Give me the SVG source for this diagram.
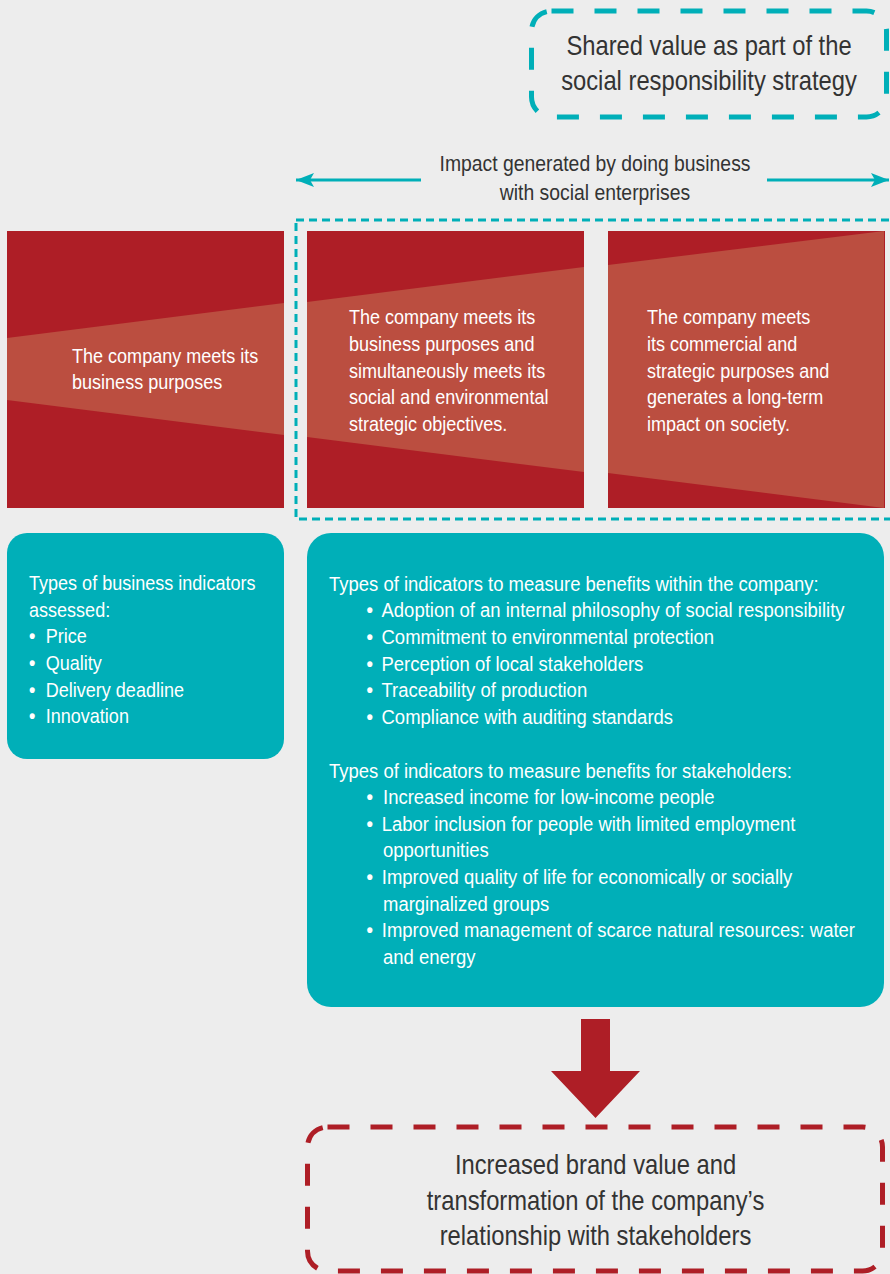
<svg xmlns="http://www.w3.org/2000/svg" width="890" height="1274" viewBox="0 0 890 1274">
<defs>
<style>
.t{font-family:"Liberation Sans",Arial,sans-serif;}
.dark{fill:#333333;}
.white{fill:#FFFFFF;}
.red{fill:#AE1E26;}
.band{fill:#BB4E40;}
.teal{fill:#00AFB8;}
.tdash{fill:none;stroke:#00AFB8;}
.rdash{fill:none;stroke:#AE1E26;}
.conn{fill:none;stroke:#00AFB8;stroke-width:3;}
.b{font-weight:bold;}
</style>
<marker id="ah" viewBox="-19 -8 20 16" refX="0" refY="0" markerWidth="20" markerHeight="16" markerUnits="userSpaceOnUse" orient="auto">
<path d="M0,0 L-18,-7 L-14,0 L-18,7 Z" fill="#00AFB8"/>
</marker>
</defs>
<rect x="0" y="0" width="890" height="1274" fill="#EDEDED"/>

<g id="shared-value">
<rect class="tdash" x="531.5" y="11" width="355" height="106" rx="20" stroke-width="5" stroke-dasharray="22 21"/>
<g class="t dark" font-size="27" transform="translate(709,0) scale(0.88,1)" text-anchor="middle">
<text x="0" y="55">Shared value as part of the</text>
<text x="0" y="90">social responsibility strategy</text>
</g>
</g>

<g id="impact-label">
<g class="t dark" font-size="22" transform="translate(595,0) scale(0.88,1)" text-anchor="middle">
<text x="0" y="171.5">Impact generated by doing business</text>
<text x="0" y="200">with social enterprises</text>
</g>
</g>

<g id="connectors">
<line class="conn" x1="421" y1="180" x2="296" y2="180" marker-end="url(#ah)"/>
<line class="conn" x1="767" y1="180" x2="889" y2="180" marker-end="url(#ah)"/>
<path d="M581,1019 H610 V1071 H640 L595.5,1118 L551,1071 H581 Z" fill="#AE1E26"/>
</g>

<g id="social-frame">
<rect class="tdash" x="296" y="220" width="610" height="299" stroke-width="3" stroke-dasharray="8 5"/>
</g>

<g id="box-business">
<rect class="red" x="7" y="231" width="277" height="277"/>
<polygon class="band" points="7,338 284,303 284,435 7,400"/>
<g class="t white" font-size="20.5" transform="translate(72,0) scale(0.88,1)">
<text x="0" y="363">The company meets its</text>
<text x="0" y="389">business purposes</text>
</g>
</g>

<g id="box-social">
<rect class="red" x="307" y="231" width="277" height="277"/>
<polygon class="band" points="307,302 584,267 584,472 307,437"/>
<g class="t white" font-size="20.5" transform="translate(349,0) scale(0.88,1)">
<text x="0" y="324.3">The company meets its</text>
<text x="0" y="351">business purposes and</text>
<text x="0" y="377.7">simultaneously meets its</text>
<text x="0" y="404.3">social and environmental</text>
<text x="0" y="431">strategic objectives.</text>
</g>
</g>

<g id="box-longterm">
<rect class="red" x="608" y="231" width="277" height="277"/>
<polygon class="band" points="608,265 884,231 884,508 608,473"/>
<g class="t white" font-size="20.5" transform="translate(647,0) scale(0.88,1)">
<text x="0" y="324.3">The company meets</text>
<text x="0" y="351">its commercial and</text>
<text x="0" y="377.7">strategic purposes and</text>
<text x="0" y="404.3">generates a long-term</text>
<text x="0" y="431">impact on society.</text>
</g>
</g>

<g id="indicators-business">
<rect class="teal" x="7" y="533" width="277" height="226" rx="20"/>
<g class="t white" font-size="20.5" transform="translate(29,0) scale(0.88,1)">
<text x="0" y="590">Types of business indicators</text>
<text x="0" y="616.7">assessed:</text>
<text y="643.3"><tspan class="b" x="0">•</tspan><tspan x="19">Price</tspan></text>
<text y="670"><tspan class="b" x="0">•</tspan><tspan x="19">Quality</tspan></text>
<text y="696.7"><tspan class="b" x="0">•</tspan><tspan x="19">Delivery deadline</tspan></text>
<text y="723.3"><tspan class="b" x="0">•</tspan><tspan x="19">Innovation</tspan></text>
</g>
</g>

<g id="indicators-benefits">
<rect class="teal" x="307" y="533" width="577" height="474" rx="24"/>
<g class="t white" font-size="21" transform="translate(329,0) scale(0.88,1)">
<text x="0" y="590.7">Types of indicators to measure benefits within the company:</text>
<text y="617.3"><tspan class="b" x="42.6">•</tspan><tspan x="59.7">Adoption of an internal philosophy of social responsibility</tspan></text>
<text y="644"><tspan class="b" x="42.6">•</tspan><tspan x="59.7">Commitment to environmental protection</tspan></text>
<text y="670.7"><tspan class="b" x="42.6">•</tspan><tspan x="59.7">Perception of local stakeholders</tspan></text>
<text y="697.3"><tspan class="b" x="42.6">•</tspan><tspan x="59.7">Traceability of production</tspan></text>
<text y="724"><tspan class="b" x="42.6">•</tspan><tspan x="59.7">Compliance with auditing standards</tspan></text>
<text x="0" y="778">Types of indicators to measure benefits for stakeholders:</text>
<text y="804"><tspan class="b" x="42.6">•</tspan><tspan x="61.4">Increased income for low-income people</tspan></text>
<text y="830.7"><tspan class="b" x="42.6">•</tspan><tspan x="60">Labor inclusion for people with limited employment</tspan></text>
<text x="61.4" y="857.3">opportunities</text>
<text y="884"><tspan class="b" x="42.6">•</tspan><tspan x="60">Improved quality of life for economically or socially</tspan></text>
<text x="61.4" y="910.7">marginalized groups</text>
<text y="937.3"><tspan class="b" x="42.6">•</tspan><tspan x="60">Improved management of scarce natural resources: water</tspan></text>
<text x="61.4" y="964">and energy</text>
</g>
</g>

<g id="brand-value">
<rect class="rdash" x="307.5" y="1127" width="575" height="144" rx="20" stroke-width="5" stroke-dasharray="22 21"/>
<g class="t dark" font-size="27" transform="translate(595.5,0) scale(0.88,1)" text-anchor="middle">
<text x="0" y="1174">Increased brand value and</text>
<text x="0" y="1210">transformation of the company’s</text>
<text x="0" y="1245">relationship with stakeholders</text>
</g>
</g>
</svg>
